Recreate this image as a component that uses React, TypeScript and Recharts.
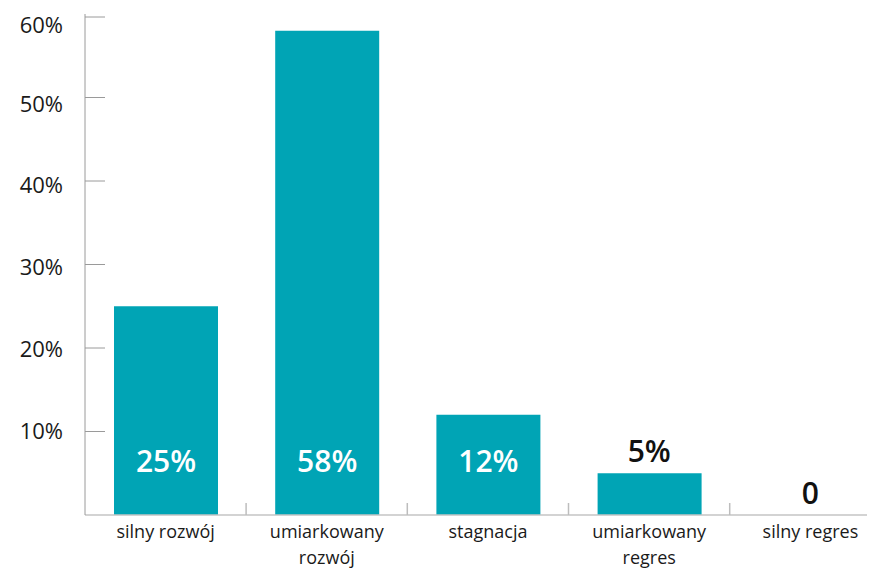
import React from 'react';
import { ComposedChart, Bar, Line, XAxis, YAxis, LabelList } from 'recharts';

const categories = ['silny rozwój', 'umiarkowany rozwój', 'stagnacja', 'umiarkowany regres', 'silny regres'];
const shares = [25, 58, 12, 5, 0];
const yTicks = [10, 20, 30, 40, 50, 60];

const data = categories.map((name, i) => ({ name, value: shares[i] }));

const TEAL = '#00a4b5';
const FONT = '"Open Sans", sans-serif';
const BAND = 161;

const YTick = (props: any) => {
  const { x, y, payload } = props;
  const dy = ((payload.value - 10) / 50) * 9;
  return (
    <g>
      <line x1={x} x2={x + 20} y1={y} y2={y} stroke="#9a9a9a" strokeWidth={1} />
      <text x={x - 22} y={y + dy} dy={7} textAnchor="end" fontSize={22} fill="#1a1a1a" fontFamily={FONT}>
        {payload.value}%
      </text>
    </g>
  );
};

const XTick = (props: any) => {
  const { x, y, payload } = props;
  const words: string[] = payload.value.split(' ');
  const lines = words[0] === 'umiarkowany' ? [words[0], words.slice(1).join(' ')] : [payload.value];
  return (
    <g>
      <line x1={x + BAND / 2} x2={x + BAND / 2} y1={y - 12} y2={y} stroke="#bdbdbd" strokeWidth={1.5} />
      <text x={x} y={y + 23} textAnchor="middle" fontSize={18} fill="#1a1a1a" fontFamily={FONT}>
        {lines.map((l, i) => (
          <tspan key={i} x={x} dy={i === 0 ? 0 : 26}>{l}</tspan>
        ))}
      </text>
    </g>
  );
};

// white labels inside tall bars
const InsideLabel = (props: any) => {
  const { x, y, width, height, value } = props;
  if (value < 10) return null;
  return (
    <text x={x + width / 2} y={y + height - 43} textAnchor="middle" fontSize={30} fontWeight={600}
      fill="#ffffff" fontFamily={FONT}>
      {`${value}%`}
    </text>
  );
};

// dark labels above short (or empty) bars
const OutsideLabel = (props: any) => {
  const { x, y, value } = props;
  if (value >= 10) return null;
  return (
    <text x={x} y={y - 11} textAnchor="middle" fontSize={30} fontWeight={600}
      fill="#111111" fontFamily={FONT}>
      {value === 0 ? '0' : `${value}%`}
    </text>
  );
};

export default function App() {
  return (
    <div style={{ width: 890, height: 575 }}>
      <ComposedChart width={890} height={575} data={data}
        margin={{ top: 6, right: 7, bottom: 0, left: 0 }} barSize={104}>
        <XAxis dataKey="name" height={68} tick={<XTick />} tickLine={false}
          tickSize={0} tickMargin={0} axisLine={{ stroke: '#c4c4c4', strokeWidth: 1.5 }} interval={0} />
        <YAxis domain={[0, 60]} ticks={yTicks} width={77} tick={<YTick />} tickLine={false}
          tickSize={0} tickMargin={0} axisLine={{ stroke: '#9a9a9a', strokeWidth: 1 }} />
        <Bar dataKey="value" fill={TEAL} isAnimationActive={false}>
          <LabelList dataKey="value" content={<InsideLabel />} />
        </Bar>
        <Line dataKey="value" stroke="none" dot={false} activeDot={false} isAnimationActive={false}>
          <LabelList dataKey="value" content={<OutsideLabel />} />
        </Line>
      </ComposedChart>
    </div>
  );
}
